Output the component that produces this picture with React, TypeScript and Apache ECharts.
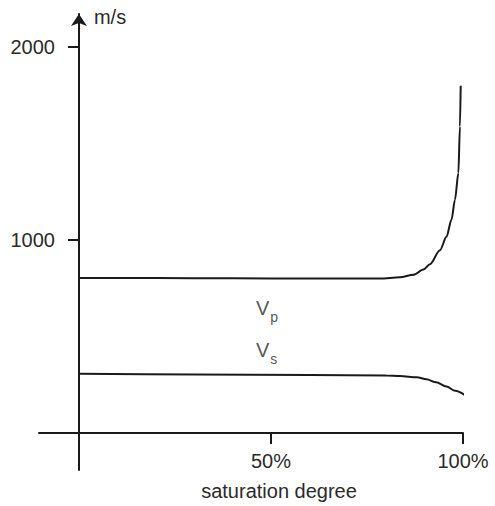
import React, { useEffect, useRef } from "react";
import * as echarts from "echarts";

// saturation degree (%) and velocity (m/s)
const vpSat = [0, 20, 40, 60, 75, 78.4, 83.6, 87.1, 89.7, 91.4, 94.0, 95.7, 97.0, 97.9, 98.8, 99.2, 99.4];
const vpVel = [803, 802, 801, 800, 800, 800, 806, 819, 846, 874, 946, 1016, 1104, 1207, 1346, 1587, 1798];

const vsSat = [0, 30, 60, 80, 83.6, 88, 90.5, 93, 95.7, 98, 100.8];
const vsVel = [306, 303, 300, 298, 295, 288, 278, 262, 240, 218, 192];

const xTicks = [50, 100];
const yTicks = [1000, 2000];

const seriesLabels = [
  { name: "p", at: [46.1, 648] },
  { name: "s", at: [46.1, 432] },
];

const FONT = "'Liberation Sans', Arial, Helvetica, sans-serif";
const INK = "#1a1a1a";
const TEXT = "#2b2b2b";

export default function App() {
  const ref = useRef<HTMLDivElement>(null);
  useEffect(() => {
    if (!ref.current) return;
    const chart = echarts.init(ref.current, undefined, { renderer: "svg" });
    chart.setOption({
      animation: false,
      backgroundColor: "#ffffff",
      textStyle: { fontFamily: FONT },
      grid: { left: 39, right: 32, top: 14, bottom: 36, containLabel: false, outerBoundsMode: "none" },
      xAxis: {
        type: "value",
        min: -10.4,
        max: 100,
        name: "saturation degree",
        nameLocation: "middle",
        nameGap: 11,
        nameTextStyle: { fontSize: 20, color: TEXT, fontFamily: FONT, padding: [0, 0, 0, 56] },
        axisLine: { show: true, onZero: true, lineStyle: { color: INK, width: 2 } },
        axisTick: { show: true, length: 11, inside: false, customValues: xTicks, lineStyle: { color: INK, width: 2 } },
        axisLabel: {
          show: true,
          customValues: xTicks,
          margin: -19,
          fontSize: 20,
          color: TEXT,
          fontFamily: FONT,
          formatter: (v: number) => v + "%",
        },
        splitLine: { show: false },
      },
      yAxis: {
        type: "value",
        min: -192,
        max: 2170,
        name: "m/s",
        nameLocation: "end",
        nameGap: -3,
        nameTextStyle: { fontSize: 20, color: TEXT, fontFamily: FONT, align: "left", verticalAlign: "middle", padding: [0, 0, 0, 15] },
        axisLine: {
          show: true,
          onZero: true,
          symbol: ["none", "arrow"],
          symbolSize: [12, 12],
          lineStyle: { color: INK, width: 2 },
        },
        axisTick: { show: true, length: 11, inside: false, customValues: yTicks, lineStyle: { color: INK, width: 2 } },
        axisLabel: {
          show: true,
          customValues: yTicks,
          margin: -16,
          fontSize: 20,
          color: TEXT,
          fontFamily: FONT,
          formatter: (v: number) => String(v),
        },
        splitLine: { show: false },
      },
      series: [
        {
          type: "line",
          name: "Vp",
          data: vpSat.map((s, i) => [s, vpVel[i]]),
          showSymbol: false,
          smooth: 0.3,
          smoothMonotone: "x",
          lineStyle: { color: INK, width: 2 },
        },
        {
          type: "line",
          name: "Vs",
          data: vsSat.map((s, i) => [s, vsVel[i]]),
          showSymbol: false,
          smooth: 0.3,
          smoothMonotone: "x",
          lineStyle: { color: INK, width: 2 },
        },
        {
          type: "scatter",
          symbolSize: 0,
          data: seriesLabels.map((l) => ({ value: l.at, sub: l.name })),
          label: {
            show: true,
            position: "right",
            distance: 0,
            formatter: (p: any) => "{v|V}{s|" + p.data.sub + "}",
            rich: {
              v: { fontSize: 20, lineHeight: 20, verticalAlign: "top", color: TEXT, fontFamily: FONT },
              s: { fontSize: 14, lineHeight: 14, verticalAlign: "top", padding: [12, 0, 0, 1], color: TEXT, fontFamily: FONT },
            },
          },
          silent: true,
        },
      ],
    });
    return () => chart.dispose();
  }, []);
  return <div ref={ref} style={{ width: 495, height: 506, position: "absolute", left: 0, top: 0 }} />;
}
